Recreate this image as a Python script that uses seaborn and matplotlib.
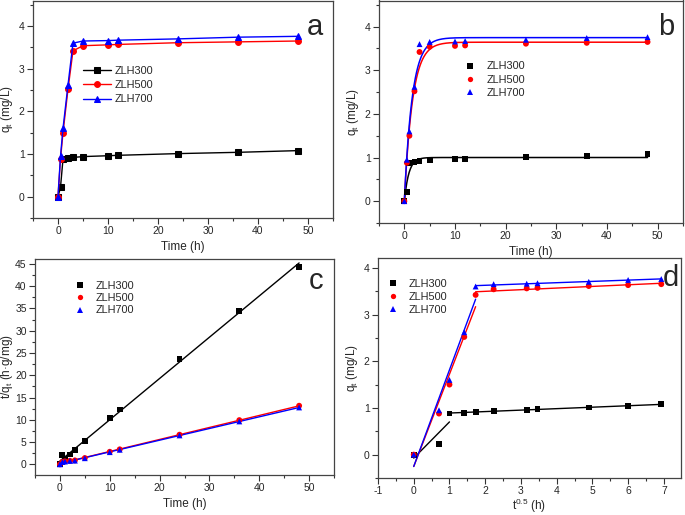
import numpy as np
import pandas as pd
import matplotlib
matplotlib.use("Agg")
import matplotlib.pyplot as plt
from matplotlib.ticker import MultipleLocator
import seaborn as sns

sns.set_style("white")
plt.rcParams['font.family'] = ['Liberation Sans', 'DejaVu Sans']
plt.rcParams['mathtext.fontset'] = 'custom'
plt.rcParams['mathtext.rm'] = 'Liberation Sans'
plt.rcParams['mathtext.it'] = 'Liberation Sans'
plt.rcParams['axes.unicode_minus'] = False

# ---------------- data ----------------
time_h = [0, 0.5, 1, 2, 3, 5, 10, 12, 24, 36, 48]
sqrt_t = [0, 0.707, 1.0, 1.414, 1.732, 2.236, 3.162, 3.464, 4.899, 6.0, 6.928]
series = ["ZLH300", "ZLH500", "ZLH700"]
q_300 = [0, 0.22, 0.88, 0.90, 0.92, 0.94, 0.96, 0.97, 1.01, 1.04, 1.08]
q_500 = [0, 0.88, 1.50, 2.52, 3.42, 3.54, 3.56, 3.57, 3.61, 3.63, 3.65]
q_700 = [0, 0.95, 1.60, 2.62, 3.60, 3.65, 3.66, 3.67, 3.70, 3.74, 3.76]
# t/qt values
tq_300 = [0, 2.1, 1.1, 2.2, 3.25, 5.3, 10.4, 12.3, 23.7, 34.5, 44.4]
tq_500 = [0, 0.55, 0.67, 0.79, 0.88, 1.41, 2.81, 3.36, 6.65, 9.92, 13.15]
tq_700 = [0, 0.52, 0.62, 0.76, 0.83, 1.37, 2.73, 3.27, 6.49, 9.63, 12.77]
# intra-particle diffusion segments: break index (sqrt t) per series
break_idx = [2, 4, 4]

colors = ["#000000", "#FF0000", "#0000FF"]
markers = ["s", "o", "^"]
q_all = [q_300, q_500, q_700]
tq_all = [tq_300, tq_500, tq_700]

df_q = pd.DataFrame({
    "t": np.tile(time_h, 3),
    "s": np.tile(sqrt_t, 3),
    "q": np.concatenate(q_all),
    "tq": np.concatenate(tq_all),
    "series": np.repeat(series, len(time_h)),
})

W, H = 685, 515
fig = plt.figure(figsize=(W / 100, H / 100), dpi=100)

TICK_FS = 7.5
LAB_FS = 8.5
LEG_FS = 7.8
LETTER_FS = 21
MS = 18  # scatter marker area


def add_ax(l, r, t, b):
    return fig.add_axes([l / W, 1 - b / H, (r - l) / W, (b - t) / H])


def style(ax, xlim, ylim, xmaj, xmin, ymaj, ymin):
    ax.set_xlim(*xlim)
    ax.set_ylim(*ylim)
    ax.xaxis.set_major_locator(MultipleLocator(xmaj))
    ax.xaxis.set_minor_locator(MultipleLocator(xmin))
    ax.yaxis.set_major_locator(MultipleLocator(ymaj))
    ax.yaxis.set_minor_locator(MultipleLocator(ymin))
    ax.tick_params(which='both', direction='out', bottom=True, left=True,
                   top=False, right=False, labelsize=TICK_FS, pad=2, color='#333333')
    ax.tick_params(which='major', length=4, width=0.8)
    ax.tick_params(which='minor', length=2.5, width=0.8)
    for sp in ax.spines.values():
        sp.set_color('#444444')
        sp.set_linewidth(0.9)


pal = dict(zip(series, colors))
mk = dict(zip(series, markers))

# ---------- panel a ----------
axa = add_ax(33, 333, 0.5, 218)
sns.lineplot(data=df_q, x="t", y="q", hue="series", style="series",
             palette=pal, markers=mk, dashes=False, markersize=4.2,
             linewidth=1.0, ax=axa)
style(axa, (-5, 55), (-0.5, 4.6), 10, 5, 1, 0.5)
axa.set_xlabel("Time (h)", fontsize=LAB_FS, labelpad=3)
axa.set_ylabel("q$_t$ (mg/L)", fontsize=LAB_FS, labelpad=3)
for ln in axa.lines:
    ln.set_markeredgecolor(ln.get_color())
axa.legend(loc="upper left", bbox_to_anchor=(0.135, 0.745), frameon=False,
           fontsize=LEG_FS, handlelength=2.6, labelspacing=0.4, handletextpad=0.3)
axa.text(0.965, 0.88, "a", transform=axa.transAxes, fontsize=LETTER_FS, ha="right", va="center")

# ---------- panel b ----------
axb = add_ax(379, 683, 0.5, 223)
tt = np.asarray(time_h, float)
t_fine = np.linspace(0, 48, 400)
k_grid = np.linspace(0.05, 5, 2000)
fit_rows = []
for name, q in zip(series, q_all):
    q = np.asarray(q, float)
    best = None
    for k in k_grid:
        f = 1 - np.exp(-k * tt)
        qe = (q @ f) / (f @ f)
        sse = np.sum((q - qe * f) ** 2)
        if best is None or sse < best[0]:
            best = (sse, k, qe)
    _, k, qe = best
    fit_rows.append(pd.DataFrame({"t": t_fine, "q": qe * (1 - np.exp(-k * t_fine)), "series": name}))
df_fit = pd.concat(fit_rows)
sns.lineplot(data=df_fit, x="t", y="q", hue="series", palette=pal, linewidth=1.1,
             legend=False, ax=axb)
sns.scatterplot(data=df_q, x="t", y="q", hue="series", style="series",
                palette=pal, markers=mk, s=MS, linewidth=0, ax=axb, zorder=3)
style(axb, (-5, 55), (-0.5, 4.6), 10, 5, 1, 0.5)
axb.set_xlabel("Time (h)", fontsize=LAB_FS, labelpad=3)
axb.set_ylabel("q$_t$ (mg/L)", fontsize=LAB_FS, labelpad=3)
axb.legend(loc="upper left", bbox_to_anchor=(0.23, 0.77), frameon=False,
           fontsize=LEG_FS, labelspacing=0.3, handletextpad=0.6, markerscale=0.9)
axb.text(0.97, 0.88, "b", transform=axb.transAxes, fontsize=LETTER_FS, ha="right", va="center")

# ---------- panel c ----------
axc = add_ax(35, 334, 259, 475)
for name, c in zip(series, colors):
    sub = df_q[df_q.series == name]
    sns.regplot(data=sub, x="t", y="tq", scatter=False, ci=None, truncate=True,
                color=c, line_kws={"linewidth": 1.0}, ax=axc)
sns.scatterplot(data=df_q, x="t", y="tq", hue="series", style="series",
                palette=pal, markers=mk, s=MS, linewidth=0, ax=axc, zorder=3)
style(axc, (-5, 55), (-2.4, 46.1), 10, 5, 5, 2.5)
axc.set_xlabel("Time (h)", fontsize=LAB_FS, labelpad=3)
axc.set_ylabel("t/q$_t$ (h·g/mg)", fontsize=LAB_FS)
axc.yaxis.set_label_coords(-0.068, 0.5)
axc.legend(loc="upper left", bbox_to_anchor=(0.08, 0.945), frameon=False,
           fontsize=LEG_FS, labelspacing=0.22, handletextpad=0.5, markerscale=0.9)
axc.text(0.963, 0.9, "c", transform=axc.transAxes, fontsize=LETTER_FS, ha="right", va="center")

# ---------- panel d ----------
axd = add_ax(378, 681, 258, 478)
for name, c, bi in zip(series, colors, break_idx):
    sub = df_q[df_q.series == name].reset_index(drop=True)
    seg1 = sub.iloc[:bi + 1]
    seg2 = sub.iloc[bi:]
    for seg in (seg1, seg2):
        sns.regplot(data=seg, x="s", y="q", scatter=False, ci=None, truncate=True,
                    color=c, line_kws={"linewidth": 1.0}, ax=axd)
sns.scatterplot(data=df_q, x="s", y="q", hue="series", style="series",
                palette=pal, markers=mk, s=MS, linewidth=0, ax=axd, zorder=3)
style(axd, (-1, 7.48), (-0.5, 4.21), 1, 0.5, 1, 0.5)
axd.set_xlabel("t$^{0.5}$ (h)", fontsize=LAB_FS, labelpad=0)
axd.set_ylabel("q$_t$ (mg/L)", fontsize=LAB_FS, labelpad=3)
axd.legend(loc="upper left", bbox_to_anchor=(-0.02, 0.95), frameon=False,
           fontsize=LEG_FS, labelspacing=0.3, handletextpad=0.5, markerscale=0.9)
axd.text(0.995, 0.91, "d", transform=axd.transAxes, fontsize=LETTER_FS, ha="right", va="center")

fig.savefig("out.png", dpi=100)
